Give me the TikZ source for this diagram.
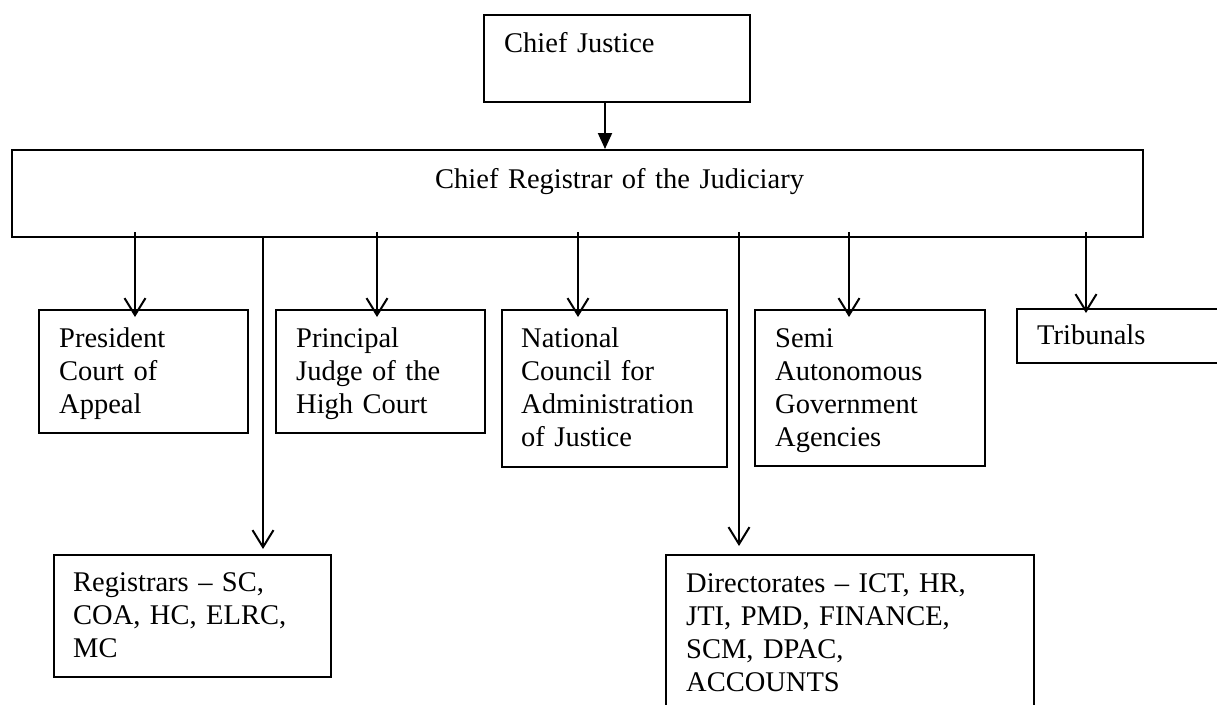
\documentclass[tikz,border=0pt]{standalone}
\usepackage{fontspec}
\setmainfont{Liberation Serif}
\usetikzlibrary{arrows.meta}
\begin{document}
\begin{tikzpicture}[x=1pt,y=-1pt,
  box/.style={draw, line width=1.5pt, inner sep=0pt, anchor=north west},
  txt/.style={anchor=base west, align=left, text width=380pt, inner sep=0pt,
    font=\fontsize{28.5pt}{33pt}\selectfont},
  arr/.style={line width=2pt, -{Straight Barb[length=17pt,width=21pt,line width=2pt]}},
  arrF/.style={line width=2pt, -{Triangle[length=16pt,width=14pt]}}]
\useasboundingbox (0,0) rectangle (1217,704);
\clip (0,0) rectangle (1217,704);
\fill[white] (0,0) rectangle (1217,704);
% boxes
\node[box, line width=2pt, minimum width=266pt, minimum height=87pt] (cj) at (483,14) {};
\node[txt] (cjt) at (504,52) {Chief Justice};
\node[box, minimum width=1131pt, minimum height=87pt] (reg) at (11,149) {};
\node[txt] (regt) at (435,188) {Chief Registrar of the Judiciary};
\node[box, minimum width=209pt, minimum height=123pt] (pres) at (38,309) {};
\node[txt] (prest) at (59,347) {President\\Court of\\Appeal};
\node[box, minimum width=209pt, minimum height=123pt] (princ) at (275,309) {};
\node[txt] (princt) at (296,347) {Principal\\Judge of the\\High Court};
\node[box, minimum width=225pt, minimum height=157pt] (nat) at (501,309) {};
\node[txt] (natt) at (521,347) {National\\Council for\\Administration\\of Justice};
\node[box, minimum width=230pt, minimum height=156pt] (semi) at (754,309) {};
\node[txt] (semit) at (775,347) {Semi\\Autonomous\\Government\\Agencies};
\node[box, minimum width=250pt, minimum height=54pt] (trib) at (1016,308) {};
\node[txt] (tribt) at (1037,344) {Tribunals};
\node[box, minimum width=277pt, minimum height=122pt] (regs) at (53,554) {};
\node[txt] (regst) at (73,591) {Registrars -- SC,\\COA, HC, ELRC,\\MC};
\node[box, minimum width=368pt, minimum height=200pt] (dir) at (665,554) {};
\node[txt] (dirt) at (686,592) {Directorates -- ICT, HR,\\JTI, PMD, FINANCE,\\SCM, DPAC,\\ACCOUNTS};
% connector start points
\coordinate (c0) at (605,101);
\coordinate (s1) at (135,232);
\coordinate (s2) at (263,236);
\coordinate (s3) at (377,232);
\coordinate (s4) at (578,232);
\coordinate (s5) at (739,232);
\coordinate (s6) at (849,232);
\coordinate (s7) at (1086,232);
% connectors
\draw[arrF] (c0) -- (c0 |- reg.north);
\draw[arr, shorten >=-8pt] (s1) -- (s1 |- pres.north);
\draw[arr, shorten >=5pt] (s2) -- (s2 |- regs.north);
\draw[arr, shorten >=-8pt] (s3) -- (s3 |- princ.north);
\draw[arr, shorten >=-8pt] (s4) -- (s4 |- nat.north);
\draw[arr, shorten >=8pt] (s5) -- (s5 |- dir.north);
\draw[arr, shorten >=-8pt] (s6) -- (s6 |- semi.north);
\draw[arr, shorten >=-5pt] (s7) -- (s7 |- trib.north);
\end{tikzpicture}
\end{document}
